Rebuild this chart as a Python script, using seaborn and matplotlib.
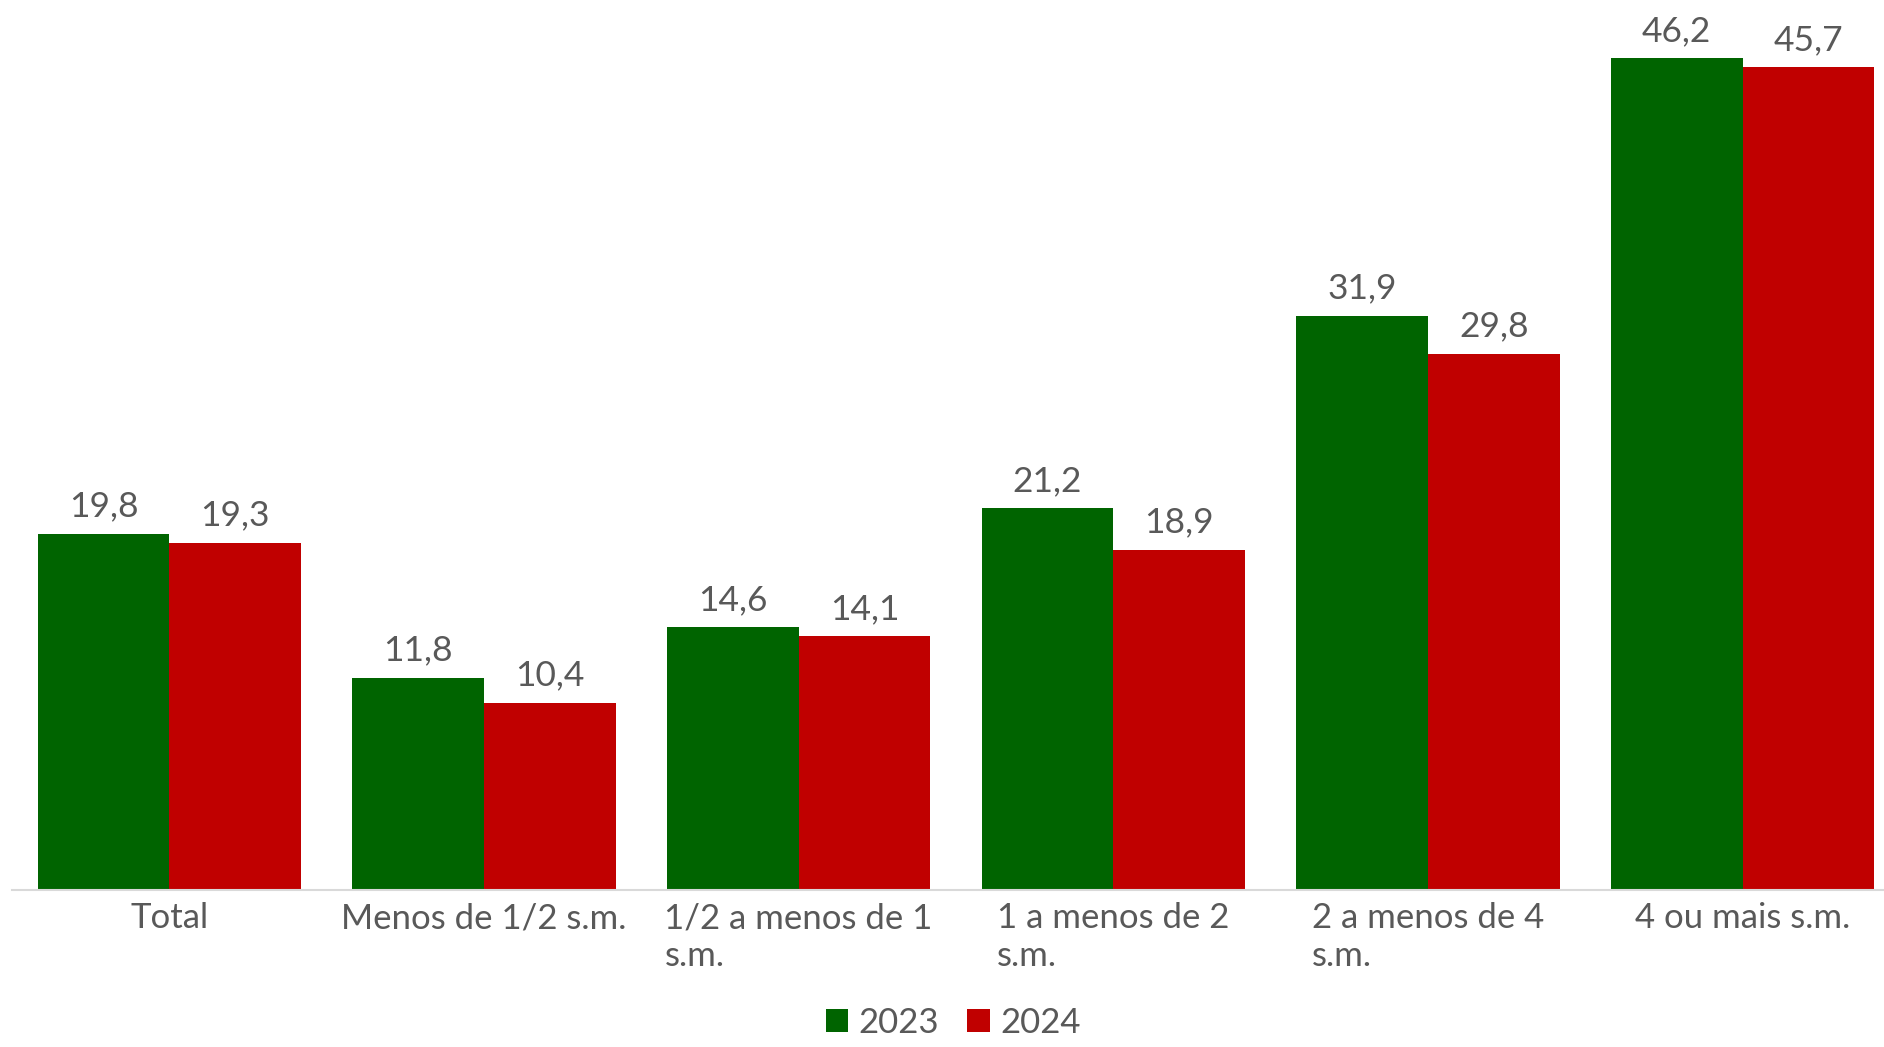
import pandas as pd
import matplotlib.pyplot as plt
import seaborn as sns

CATEGORIES = [
    "Total",
    "Menos de 1/2 s.m.",
    "1/2 a menos de 1\ns.m.",
    "1 a menos de 2\ns.m.",
    "2 a menos de 4\ns.m.",
    "4 ou mais s.m.",
]
YEARS = ["2023", "2024"]
VALUES_2023 = [19.8, 11.8, 14.6, 21.2, 31.9, 46.2]
VALUES_2024 = [19.3, 10.4, 14.1, 18.9, 29.8, 45.7]

COLORS = {"2023": "#006400", "2024": "#C00000"}
TEXT_COLOR = "#595959"


def build_frame() -> pd.DataFrame:
    rows = []
    for year, vals in zip(YEARS, [VALUES_2023, VALUES_2024]):
        for cat, v in zip(CATEGORIES, vals):
            rows.append({"categoria": cat, "ano": year, "valor": v})
    return pd.DataFrame(rows)


def main():
    sns.set_theme(style="white")
    plt.rcParams["font.family"] = ["Lato", "DejaVu Sans"]

    df = build_frame()
    fig = plt.figure(figsize=(18.84, 10.47), dpi=100)
    # chart is cropped on the right edge, like the source
    ax = fig.add_axes([0.0064, 0.15, 1.002, 0.8252])

    sns.barplot(
        data=df,
        x="categoria",
        y="valor",
        hue="ano",
        order=CATEGORIES,
        hue_order=YEARS,
        palette=COLORS,
        width=0.837,
        saturation=1,
        linewidth=0,
        ax=ax,
    )

    for container in ax.containers:
        labels = [f"{v:.1f}".replace(".", ",") for v in container.datavalues]
        ax.bar_label(container, labels=labels, padding=8, fontsize=25.5, color=TEXT_COLOR)

    ax.set_xlim(-0.5, len(CATEGORIES) - 0.5)
    ax.set_ylim(0, 48)
    ax.set_xlabel("")
    ax.set_ylabel("")
    ax.set_yticks([])
    ax.tick_params(axis="x", length=0, pad=9)
    for lbl in ax.get_xticklabels():
        lbl.set_fontsize(25)
        lbl.set_color(TEXT_COLOR)
        lbl.set_multialignment("left")
        lbl.set_verticalalignment("top")

    for side in ["top", "right", "left"]:
        ax.spines[side].set_visible(False)
    ax.spines["bottom"].set_color("#D9D9D9")
    ax.spines["bottom"].set_linewidth(1.5)

    handles, labels = ax.get_legend_handles_labels()
    if ax.legend_:
        ax.legend_.remove()
    fig.legend(
        handles,
        labels,
        loc="lower center",
        bbox_to_anchor=(0.506, -0.022),
        ncol=2,
        frameon=False,
        fontsize=25,
        labelcolor=TEXT_COLOR,
        handlelength=0.65,
        handleheight=0.65,
        handletextpad=0.3,
        columnspacing=0.8,
    )

    fig.savefig("out.png", dpi=100)
    plt.close(fig)


if __name__ == "__main__":
    main()
